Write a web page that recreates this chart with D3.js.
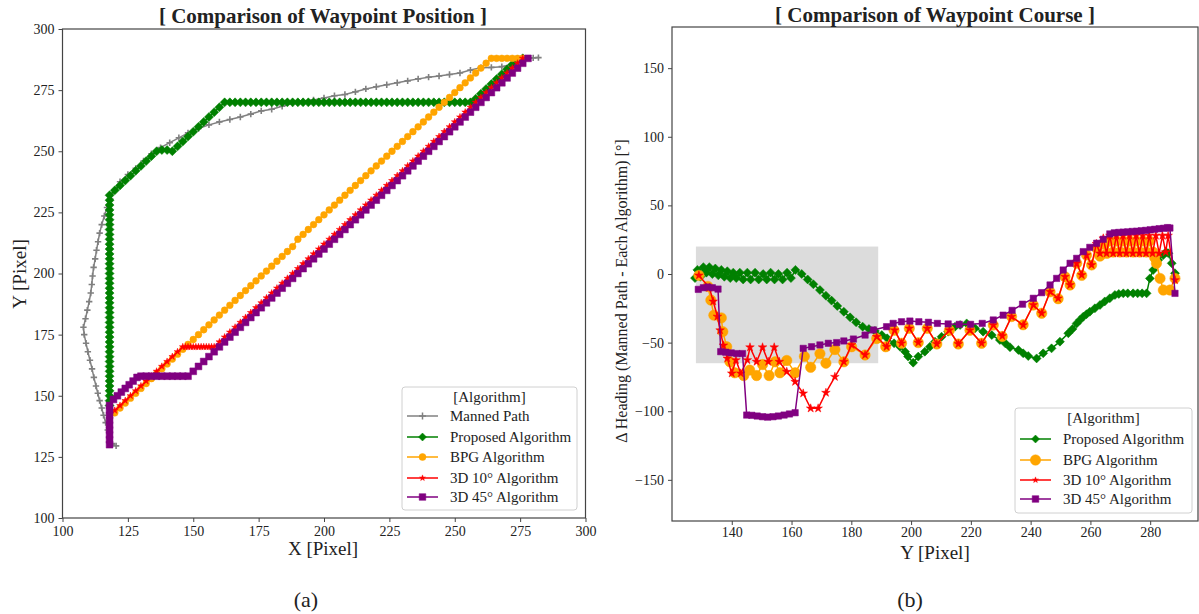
<!DOCTYPE html>
<html>
<head>
<meta charset="utf-8">
<script src="https://cdn.jsdelivr.net/npm/d3@7"></script>
<style>
  body { margin: 0; background: #fff; }
  svg text { font-family: "Liberation Serif", "Times New Roman", serif; fill: #222; }
</style>
</head>
<body>
<div id="chart"></div>
<script>
// ---------- (a) waypoint position : [x pixel, y pixel] ----------
const mannedPath = [
  [120.5,129.5],[119,130.5],[118,133],[117.3,136],[116.5,139],[115.7,142],[115,145],[114.2,148],[113.5,151],[112.8,154],
  [112,157.5],[111.3,161],[110.5,164.5],[109.7,168],[109,171.5],[108.3,175],[108,178],[108.8,181.5],[109.5,185],[110.2,188.5],
  [110.8,192],[111.2,195.5],[111.5,199],[111.9,202.5],[112.5,206],[113,209.5],[113.6,213],[114.2,216.5],[115,220],[116,223.5],
  [117,227],[118.3,230.5],[120,234],[122,237.5],[125,240.5],[128,243],[131,246],[134,249],[137.5,251.5],[141,253.5],
  [144.5,255.5],[148,257.5],[152,259.3],[156,260.8],[160,262],[164,263],[168,264],[172,265.2],[176,266.5],[180,267.2],
  [184,268.4],[188,269.6],[192,270.4],[196,271],[200,271.8],[204,272.7],[208,273.2],[212,274.3],[216,275.5],[220,276.4],
  [224,277.2],[228,278],[232,278.8],[236,279.6],[240,280.3],[244,280.8],[248,281.4],[252,282],[256,283.2],[260,284.2],
  [264,284.3],[268,284.6],[272,285.6],[276,287.3],[280,288.2],[282,288.3]
];
const proposedPos = [
  [118,146],[118,148],[118,150],[118,152],[118,154],[118,156],[118,158],[118,160],[118,162],[118,164],[118,166],
  [118,168],[118,170],[118,172],[118,174],[118,176],[118,178],[118,180],[118,182],[118,184],[118,186],[118,188],
  [118,190],[118,192],[118,194],[118,196],[118,198],[118,200],[118,202],[118,204],[118,206],[118,208],[118,210],
  [118,212],[118,214],[118,216],[118,218],[118,220],[118,222],[118,224],[118,226],[118,228],[118,230],[118,232],
  [120,234],[122,236],[124,238],[126,240],[128,242],[130,244],[132,246],[134,248],[136,250],
  [138,250.5],[140,250.5],[142,250],
  [144,252],[146,254],[148,256],[150,258],[152,260],[154,262],[156,264],[158,266],[160,268],[162,270],
  [164,270],[166,270],[168,270],[170,270],[172,270],[174,270],[176,270],[178,270],[180,270],[182,270],[184,270],
  [186,270],[188,270],[190,270],[192,270],[194,270],[196,270],[198,270],[200,270],[202,270],[204,270],[206,270],
  [208,270],[210,270],[212,270],[214,270],[216,270],[218,270],[220,270],[222,270],[224,270],[226,270],[228,270],
  [230,270],[232,270],[234,270],[236,270],[238,270],[240,270],[242,270],[244,270],[246,270],[248,270],[250,270],
  [252,270],[254,270],[256,270],
  [258,271.5],[260,273.5],[262,275.5],[264,277.5],[266,279.5],[268,281.5],[270,283.5],[272,285.5],[274,287.5],[276,288]
];
const bpgPos = [
  [120,143],[122,145],[124,147],[126,149],[128,151],[130,153],[132,155],[134,157],[136,159],[138,161],[140,163],
  [142,165],[144,167],[146,169],[148,171],[150,173],[152,175],[154,177],[156,179],[158,181],[160,183],[162,185],
  [164,187],[166,189],[168,191],[170,193],[172,195],[174,197],[176,199],[178,201],[180,203],[182,205],[184,207],
  [186,209],[188,211],[190,214],[192,216],[194,218],[196,220],[198,222],[200,224],[202,226],[204,228],[206,230],
  [208,232],[210,234],[212,236],[214,238],[216,240],[218,242],[220,244],[222,246],[224,248],[226,250],[228,252],
  [230,254],[232,256],[234,258],[236,260],[238,262],[240,264],[242,266],[244,268],[246,270],[248,272],[250,274],
  [252,276],[254,278],[256,280],[258,282],[260,284],[262,286],[264,288],
  [266,288],[268,288],[270,288],[272,288],[274,288],[276,288]
];
const d3d10Pos = [
  [120,144],[122,146],[124,148],[126,150],[128,152],[130,154],[132,156],[134,158],[136,160],[138,162],[140,164],
  [142,166],[144,168],[146,170],
  [147,170],[148,170],[149,170],[150,170],[151,170],[152,170],[153,170],[154,170],[155,170],[156,170],[157,170],[158,170],
  [160,172],[162,174],[164,176],[166,178],[168,180],[170,182],[172,184],[174,186],[176,188],[178,190],[180,192],
  [182,194],[184,196],[186,198],[188,200],[190,202],[192,204],[194,206],[196,208],[198,210],[200,212],[202,214],
  [204,216],[206,218],[208,220],[210,222],[212,224],[214,226],[216,228],[218,230],[220,232],[222,234],[224,236],
  [226,238],[228,240],[230,242],[232,244],[234,246],[236,248],[238,250],[240,252],[242,254],[244,256],[246,258],
  [248,260],[250,262],[252,264],[254,266],[256,268],[258,270],[260,272],[262,274],[264,276],[266,278],[268,280],
  [270,282],[272,284],[274,286],[276,288]
];
const d3d45Pos = [
  [118,130],[118,132],[118,134],[118,136],[118,138],[118,140],[118,142],[118,144],[118,146],
  [119.5,148.5],[121,150],[122.5,151.5],[124,153],[125.5,154.5],[127,156],[128.5,157.5],[130,158],
  [132,158],[134,158],[136,158],[138,158],[140,158],[142,158],[144,158],[146,158],[148,158],
  [150,160],[152,162],[154,164],[156,166],[158,168],[160,170],[162,172],[164,174],[166,176],[168,178],[170,180],
  [172,182],[174,184],[176,186],[178,188],[180,190],[182,192],[184,194],[186,196],[188,198],[190,200],[192,202],
  [194,204],[196,206],[198,208],[200,210],[202,212],[204,214],[206,216],[208,218],[210,220],[212,222],[214,224],
  [216,226],[218,228],[220,230],[222,232],[224,234],[226,236],[228,238],[230,240],[232,242],[234,244],[236,246],
  [238,248],[240,250],[242,252],[244,254],[246,256],[248,258],[250,260],[252,262],[254,264],[256,266],[258,268],
  [260,270],[262,272],[264,274],[266,276],[268,278],[270,280],[272,282],[274,284],[276,286],[278,288]
];

// ---------- (b) waypoint course : [y pixel, delta heading] ----------
const proposedCourse = [
  [127.7,-3],[128.5,3],[129.5,-2],[130.5,5],[131.5,1],[132.5,5],[133.5,0],[134.5,4],[135.5,-1],[136.5,3],[137.5,-2],
  [138.5,2],[139.5,-3],[140.5,1],[141.5,-3],[142.7,1],[143.8,-4],[145.2,1],[146.3,-4],[147.8,1],[149,-4],[150.5,0],
  [151.7,-4],[153,1],[154.3,-4],[155.6,0],[157,-4],[158.5,1],[159.8,-3],[161.3,3],[163.4,0],[165.4,-4],[167.3,-7.5],
  [169.5,-11.7],[171.5,-15.8],[173.4,-19.4],[175.3,-23.3],[177.5,-27.5],[179.6,-31.6],[181.6,-35.2],[183.8,-38.4],
  [185.9,-40.1],[187.9,-41.5],[190.2,-44.5],[192,-46.9],[194.3,-50.5],[196.3,-53],[198,-56.6],[199,-60.2],[200.7,-64.6],
  [202.4,-60.2],[204.6,-56.6],[206.3,-53],[208,-49.3],[210.2,-45.7],[212.4,-42],[214.7,-38.4],[216.4,-37.2],[218.6,-36],
  [221.4,-39.6],[224.1,-42],[227,-44.5],[229.7,-48.1],[231.5,-50.5],[233.1,-53.4],[235.9,-55.4],[237.5,-57.8],[239.2,-59.8],
  [242,-61.5],[244.2,-57.8],[247,-54.2],[249.8,-49.3],[252.6,-43.2],[254,-40],[255.4,-36],[256.5,-33.5],[257.6,-31.1],
  [258.7,-29.3],[259.8,-27.5],[261.5,-25],[263.2,-22.6],[264.8,-20],[266.5,-17.7],[268.2,-15.3],[269.5,-14.5],[271,-14.1],
  [272.5,-14.1],[274.3,-14.1],[275.8,-14.1],[277.3,-14.1],[278.8,-14.1],[279.9,-3.2],[281,2.9],[282.7,10.2],[284.4,13.8],
  [285.3,16],[286.1,15.1],[287.2,7.8],[288.3,0.5]
];
const bpgCourse = [
  [129,-1],[132,-9],[133,-19],[134,-30],[136.5,-32],[137,-42],[138.3,-53],[139.4,-64],[141,-72],[144,-74],[146,-70],
  [148.3,-74],[150.3,-66],[152.5,-74],[154.5,-64],[156.1,-72],[158.4,-63],[161.2,-72],[164.3,-60],[166.4,-68],[169.5,-58],
  [171.5,-65],[174.5,-55],[177.5,-64],[180.1,-53],[184.6,-59],[188.5,-47],[191.5,-53],[194.3,-41],[196.8,-50.5],
  [199.4,-39.6],[202.4,-50],[205.4,-39.6],[208.6,-51],[212.8,-41],[215.8,-51],[219.7,-41],[223.6,-50.5],[227.5,-37.2],
  [230.5,-45.5],[233.6,-31],[237.5,-37],[240.9,-22.6],[243.7,-28.6],[246.5,-13],[249.2,-18],[251.5,-2],[253.2,-8],
  [255.4,7.8],[257.1,-1],[258.7,13.8],[260.4,6.6],[262,19],[263.2,13],[264.3,22],[265.5,15],[266.5,24],[267.6,16],
  [268.8,24],[269.9,16],[271,24],[272.1,16],[273.2,24],[274.3,16],[275.4,24],[276.5,16],[277.6,24],[278.7,16],
  [279.8,24],[280.9,16],[281.5,12],[282.1,7.8],[283.3,-3.2],[284.4,-11.7],[286.6,-11.7],[288.3,-3.2]
];
const d3d10Course = [
  [129,-1],[132.5,-10],[133.8,-20],[135.2,-31],[136.1,-41],[137.2,-52],[138.5,-61.5],[140,-72.4],[141.4,-62.7],[143,-72.4],
  [145.2,-62.7],[146.1,-53.4],[148.3,-63.9],[150.3,-53.4],[152.2,-63.9],[154.2,-53.4],[155.9,-63.9],[158.4,-71.2],
  [161.2,-78.5],[163.9,-87],[166.4,-97.9],[168.9,-97.9],[171.5,-86.5],[174.5,-74.9],[177.5,-63.9],[180.1,-51.7],
  [184.6,-59],[188.5,-45.7],[191.8,-53],[194.5,-41],[196.8,-50.5],[199.4,-39.6],[202.4,-50],[205.4,-39.6],[208.6,-51],
  [212.8,-41],[215.8,-51],[219.7,-41],[223.6,-50.5],[227.5,-37.2],[230.5,-45.2],[233.6,-31.1],[237.5,-37.2],[240.9,-22.6],
  [243.7,-28.6],[246.5,-12.9],[249.2,-17.7],[251.5,-2],[253.2,-8],[255.4,7.8],[257.1,-0.7],[258.7,13.8],[260.4,6.6],
  [262,22],[263.2,15],[264.3,26],[265.4,15],[266.5,28],[267.6,15],[268.7,28],[269.8,15],[270.9,28],[272,15],[273.1,28],
  [274.2,15],[275.3,28],[276.4,15],[277.5,28],[278.6,15],[279.7,28],[280.8,15],[281.9,28],[283,15],[284.1,28],[285.2,16],
  [286,28],[288.3,-4.4]
];
const d3d45Course = [
  [128.8,-11.2],[130.5,-10],[132,-9.5],[133.5,-10],[135.4,-11],[136.3,-56.6],[138,-57],[139.8,-57.5],[141.7,-58],[143.6,-58],
  [145,-102.8],[146.7,-103],[148.5,-103.5],[150.3,-104],[152,-104.3],[153.8,-104],[155.6,-103.5],[157.5,-102.8],[159.3,-102],
  [161.2,-101.1],[163.9,-54.2],[166.7,-53],[169.5,-51.7],[172.3,-50.5],[175.1,-50],[177.5,-48.8],[180.7,-47.4],[184.6,-44.5],
  [187.4,-40.8],[191.8,-38.4],[194,-36],[196.8,-34.8],[199.6,-34.3],[202.6,-34.8],[205.8,-35.2],[208.8,-36],[212.4,-36.4],
  [216.1,-36.7],[219.9,-36.7],[223.8,-36],[227.5,-33.5],[230.8,-30],[233.8,-26.5],[237.3,-22],[240.9,-17.7],[243.7,-13.6],
  [246.5,-8],[248.7,-3.2],[250.9,2.9],[253.2,7.8],[255.4,11.4],[257.6,16.3],[259.8,19.4],[262.1,22.4],[264.3,25.3],
  [266.5,29.2],[268,30],[269.5,30.3],[271,30.5],[272.5,30.7],[274,31],[275.5,31.2],[277,31.5],[278.5,31.8],[280,32.2],
  [281.5,32.6],[283,33],[284.5,33.3],[285.8,33.8],[286.6,33.5],[288.3,-14.1]
];
// highlighted region in (b): [x0, x1, y0, y1]
const shadeBox = [128, 189, -65, 20];

// ---------- ticks ----------
const posTicks = [100, 125, 150, 175, 200, 225, 250, 275, 300];
const courseXTicks = [140, 160, 180, 200, 220, 240, 260, 280];
const courseYTicks = [-150, -100, -50, 0, 50, 100, 150];

const width = 1199, height = 614;
const svg = d3.select("#chart").append("svg")
  .attr("width", width).attr("height", height);

// marker shapes, roughly like matplotlib's
function markerPath(shape, s) {
  if (shape === "diamond") return `M0,${-s}L${s},0L0,${s}L${-s},0Z`;
  if (shape === "plus") return `M${-s},0H${s}M0,${-s}V${s}`;
  if (shape === "square") return `M${-s},${-s}H${s}V${s}H${-s}Z`;
  if (shape === "circle") return d3.symbol(d3.symbolCircle, Math.PI * s * s)();
  if (shape === "star") return d3.symbol(d3.symbolStar, s * s * 1.6)();
}

function drawSeries(g, x, y, data, st) {
  g.append("path")
    .datum(data)
    .attr("fill", "none")
    .attr("stroke", st.color)
    .attr("stroke-width", 1.5)
    .attr("d", d3.line().x(d => x(d[0])).y(d => y(d[1])));
  g.append("g").selectAll("path")
    .data(data)
    .join("path")
    .attr("transform", d => `translate(${x(d[0])},${y(d[1])})`)
    .attr("d", markerPath(st.shape, st.size))
    .attr("fill", st.shape === "plus" ? "none" : st.color)
    .attr("stroke", st.color)
    .attr("stroke-width", st.shape === "plus" ? 1.6 : 0.5);
}

function frame(x, y, xTicks, yTicks, pad) {
  const [x0, x1] = x.range(), [y0, y1] = y.range();
  const gx = svg.append("g").attr("transform", `translate(0,${y0})`)
    .call(d3.axisBottom(x).tickValues(xTicks).tickSize(4).tickPadding(pad));
  const gy = svg.append("g").attr("transform", `translate(${x0},0)`)
    .call(d3.axisLeft(y).tickValues(yTicks).tickSize(4).tickPadding(4));
  [gx, gy].forEach(a => {
    a.select(".domain").remove();
    a.selectAll("line").attr("stroke", "#444");
    a.selectAll("text").attr("font-size", 14).style("font-family", "'Liberation Serif', serif").attr("fill", "#222");
  });
  svg.append("rect")
    .attr("x", x0).attr("y", y1).attr("width", x1 - x0).attr("height", y0 - y1)
    .attr("fill", "none").attr("stroke", "#444").attr("stroke-width", 1.2);
}

function legend(x0, y0, w, h, title, rowY, items) {
  const g = svg.append("g");
  g.append("rect").attr("x", x0).attr("y", y0).attr("width", w).attr("height", h)
    .attr("rx", 3).attr("fill", "#fff").attr("fill-opacity", 0.85)
    .attr("stroke", "#d0d0d0");
  g.append("text").attr("x", x0 + w / 2).attr("y", y0 + 15).attr("text-anchor", "middle")
    .attr("font-size", 15).text(title);
  items.forEach((it, i) => {
    const cy = rowY[i];
    g.append("line").attr("x1", x0 + 5).attr("x2", x0 + 36).attr("y1", cy).attr("y2", cy)
      .attr("stroke", it.color).attr("stroke-width", 1.5);
    g.append("path").attr("transform", `translate(${x0 + 20.5},${cy})`)
      .attr("d", markerPath(it.shape, it.legendSize))
      .attr("fill", it.shape === "plus" ? "none" : it.color)
      .attr("stroke", it.color).attr("stroke-width", it.shape === "plus" ? 1.5 : 0.5);
    g.append("text").attr("x", x0 + 48).attr("y", cy + 5).attr("font-size", 15).text(it.name);
  });
}

// ================= (a) =================
const xA = d3.scaleLinear().domain([100, 300]).range([62.5, 585.5]);
const yA = d3.scaleLinear().domain([100, 300]).range([518, 29]);

const stylesA = [
  { name: "Manned Path", data: mannedPath, color: "#808080", shape: "plus", size: 3.2, legendSize: 3.5 },
  { name: "Proposed Algorithm", data: proposedPos, color: "#008000", shape: "diamond", size: 4.5, legendSize: 4 },
  { name: "BPG Algorithm", data: bpgPos, color: "#FFA500", shape: "circle", size: 3.4, legendSize: 3.5 },
  { name: "3D 10\u00B0 Algorithm", data: d3d10Pos, color: "#FF0000", shape: "star", size: 3, legendSize: 2.6 },
  { name: "3D 45\u00B0 Algorithm", data: d3d45Pos, color: "#800080", shape: "square", size: 3.4, legendSize: 3.3 }
];
const gA = svg.append("g");
stylesA.forEach(st => drawSeries(gA, xA, yA, st.data, st));
frame(xA, yA, posTicks, posTicks, 4);

svg.append("text").attr("x", 323).attr("y", 23).attr("text-anchor", "middle")
  .attr("font-size", 21).attr("font-weight", "bold").text("[ Comparison of Waypoint Position ]");
svg.append("text").attr("x", 323).attr("y", 555).attr("text-anchor", "middle")
  .attr("font-size", 19).text("X [Pixel]");
svg.append("text").attr("transform", "translate(26,274) rotate(-90)").attr("text-anchor", "middle")
  .attr("font-size", 19).text("Y [Pixel]");
svg.append("text").attr("x", 306).attr("y", 607).attr("text-anchor", "middle")
  .attr("font-size", 22).text("(a)");

legend(402, 387, 175, 123, "[Algorithm]", [416, 437, 457, 478, 497], stylesA);

// ================= (b) =================
const xB = d3.scaleLinear().domain([120, 296]).range([672, 1198]);
const yB = d3.scaleLinear().domain([-180, 180]).range([521, 27]);

svg.append("rect")
  .attr("x", xB(shadeBox[0])).attr("y", yB(shadeBox[3]))
  .attr("width", xB(shadeBox[1]) - xB(shadeBox[0]))
  .attr("height", yB(shadeBox[2]) - yB(shadeBox[3]))
  .attr("fill", "#dcdcdc");

const stylesB = [
  { name: "Proposed Algorithm", data: proposedCourse, color: "#008000", shape: "diamond", size: 4.5, legendSize: 4 },
  { name: "BPG Algorithm", data: bpgCourse, color: "#FFA500", shape: "circle", size: 5.2, legendSize: 5.2 },
  { name: "3D 10\u00B0 Algorithm", data: d3d10Course, color: "#FF0000", shape: "star", size: 3.8, legendSize: 2.6 },
  { name: "3D 45\u00B0 Algorithm", data: d3d45Course, color: "#800080", shape: "square", size: 3.2, legendSize: 3.3 }
];
const gB = svg.append("g");
stylesB.forEach(st => drawSeries(gB, xB, yB, st.data, st));
frame(xB, yB, courseXTicks, courseYTicks, 2);

svg.append("text").attr("x", 935).attr("y", 22).attr("text-anchor", "middle")
  .attr("font-size", 21).attr("font-weight", "bold").text("[ Comparison of Waypoint Course ]");
svg.append("text").attr("x", 935).attr("y", 559).attr("text-anchor", "middle")
  .attr("font-size", 19).text("Y [Pixel]");
svg.append("text").attr("transform", "translate(627,291) rotate(-90)").attr("text-anchor", "middle")
  .attr("font-size", 16).text("\u0394 Heading (Manned Path - Each Algorithm) [\u00B0]");
svg.append("text").attr("x", 910).attr("y", 607).attr("text-anchor", "middle")
  .attr("font-size", 22).text("(b)");

legend(1015, 408, 177, 105, "[Algorithm]", [439, 460, 480, 499], stylesB);
</script>
</body>
</html>
